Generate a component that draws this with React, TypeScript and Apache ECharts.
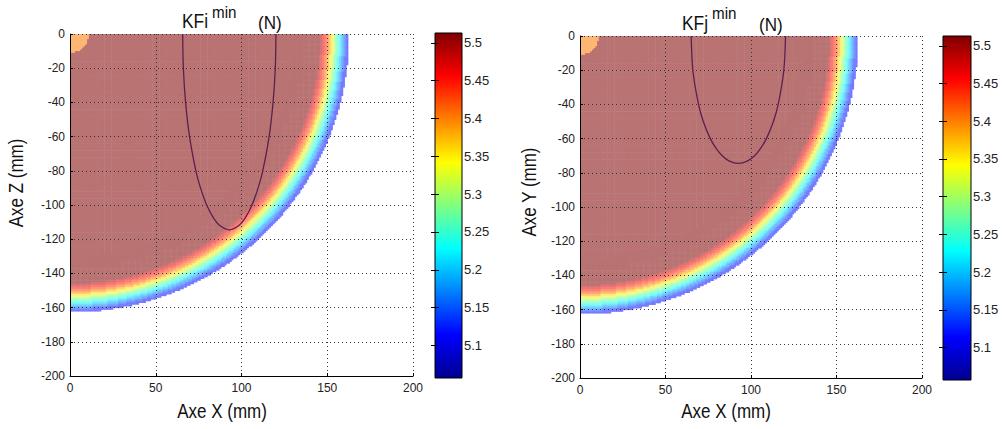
import React, { useEffect, useRef } from "react";
import * as echarts from "echarts";

// ---- axes / ticks ----
const xTickValues = [0, 50, 100, 150, 200];
const yTickValues = [0, -20, -40, -60, -80, -100, -120, -140, -160, -180, -200];
const colorbarTicks = [5.1, 5.15, 5.2, 5.25, 5.3, 5.35, 5.4, 5.45, 5.5];
const colorMin = 5.057;
const colorMax = 5.513;
const jetColors = ["#00008F", "#0000FF", "#0080FF", "#00FFFF", "#80FF80", "#FFFF00", "#FF8000", "#FF0000", "#800000"];

// ---- radial field profile (outer radius of each band in mm -> value) ----
const profileOuterRadius = [11, 146, 147, 148, 149, 150, 151, 152, 153, 154, 155, 156, 157, 158, 159, 160, 161, 162.5];
const profileValue = [5.40, 5.513, 5.49, 5.47, 5.45, 5.43, 5.41, 5.385, 5.355, 5.325, 5.295, 5.27, 5.245, 5.22, 5.195, 5.17, 5.145, 5.12];
const coarseCell = 4; // plateau cells
const fineCell = 1; // cells near the rim and the centre spot

// ---- contour lines ----
const contourLeftX = [65.7, 66.1, 67.4, 69.7, 73.4, 76.1, 79.7, 83.9, 87.3, 92.9, 98.5, 101.9, 106.1, 109.7, 112.4, 116.1, 118.4, 119.7, 120.1];
const contourLeftY = [0, -20, -40, -60, -80, -90, -100, -108, -112, -114.5, -112, -108, -100, -90, -80, -60, -40, -20, 0];
const contourRightX = [65.0, 66.0, 69.3, 72.1, 76.2, 79.8, 83.2, 87.1, 92.6, 98.1, 102.1, 105.4, 109.0, 113.1, 115.9, 119.2, 120.2];
const contourRightY = [0, -20, -40, -50, -60, -66, -70, -73, -74.5, -73, -70, -66, -60, -50, -40, -20, 0];

// ---- texts ----
const panelTitles = ["KFi", "KFj"];
const titleSup = "min";
const titleUnit = "(N)";
const yAxisNames = ["Axe Z (mm)", "Axe Y (mm)"];
const xAxisName = "Axe X (mm)";

const FONT = "'Liberation Sans', Arial, sans-serif";

function lookup(r: number): number | null {
  const k = profileOuterRadius.findIndex((R) => r <= R);
  return k >= 0 ? profileValue[k] : null;
}

function buildField(): number[][] {
  const cells: number[][] = [];
  const coarseLimit = profileOuterRadius[1] - 9; // coarse cell centres up to here
  const fineStart = profileOuterRadius[1] - 15; // fine cells beyond here (overlap avoids gaps)
  const spotEnd = profileOuterRadius[0] + 3;
  const nc = Math.round(200 / coarseCell);
  for (let i = 0; i < nc; i++) {
    for (let j = 0; j < nc; j++) {
      const cx = (i + 0.5) * coarseCell;
      const cy = -(j + 0.5) * coarseCell;
      if (Math.hypot(cx, cy) > coarseLimit) continue;
      cells.push([cx, cy, profileValue[1], coarseCell]);
    }
  }
  const nf = Math.round(200 / fineCell);
  for (let i = 0; i < nf; i++) {
    for (let j = 0; j < nf; j++) {
      const cx = (i + 0.5) * fineCell;
      const cy = -(j + 0.5) * fineCell;
      const r = Math.hypot(cx, cy);
      if (!(r <= spotEnd || r > fineStart)) continue;
      const v = lookup(r);
      if (v !== null) cells.push([cx, cy, v, fineCell]);
    }
  }
  return cells;
}

const renderCell = (params: any, api: any) => {
  const x = api.value(0);
  const y = api.value(1);
  const h = api.value(3) / 2;
  const p0 = api.coord([x - h, y + h]);
  const p1 = api.coord([x + h, y - h]);
  const c = echarts.color.parse(api.visual("color"));
  const a = 0.55;
  const ch = (v: number) => Math.round(255 - a * (255 - v));
  const fill = `rgb(${ch(c[0])},${ch(c[1])},${ch(c[2])})`;
  return {
    type: "rect",
    shape: { x: p0[0], y: p0[1], width: p1[0] - p0[0] + 0.5, height: p1[1] - p0[1] + 0.5 },
    style: { fill, stroke: null },
  };
};

const renderColorbar = (params: any, api: any) => {
  const p0 = api.coord([api.value(0), api.value(3)]);
  const p1 = api.coord([api.value(2), api.value(1)]);
  return {
    type: "rect",
    shape: { x: p0[0], y: p0[1], width: p1[0] - p0[0], height: p1[1] - p0[1] },
    style: {
      fill: {
        type: "linear",
        x: 0, y: 1, x2: 0, y2: 0,
        colorStops: jetColors.map((c, i) => ({ offset: i / (jetColors.length - 1), color: c })),
      },
      stroke: null,
    },
  };
};

const plotAxisCommon = {
  type: "value",
  z: 3,
  axisLine: { show: true, onZero: false, lineStyle: { color: "#000", width: 1 } },
  axisTick: { show: true, inside: true, length: 3, lineStyle: { color: "#000" } },
  splitLine: { show: true, lineStyle: { type: [1, 3], color: "#333", width: 1 } },
};

function heatXAxis(gridIndex: number) {
  return {
    ...plotAxisCommon,
    gridIndex,
    min: xTickValues[0],
    max: xTickValues[xTickValues.length - 1],
    interval: xTickValues[1] - xTickValues[0],
    axisLabel: { fontSize: 12, color: "#222", margin: 6, fontFamily: FONT },
  };
}
function heatYAxis(gridIndex: number) {
  return {
    ...plotAxisCommon,
    gridIndex,
    min: yTickValues[yTickValues.length - 1],
    max: yTickValues[0],
    interval: yTickValues[0] - yTickValues[1],
    axisLabel: { fontSize: 12, color: "#222", margin: 5, fontFamily: FONT },
  };
}
function cbXAxis(gridIndex: number) {
  return { type: "value", gridIndex, min: 0, max: 1, show: false };
}
function cbYAxis(gridIndex: number, side: "left" | "right") {
  return {
    type: "value",
    gridIndex,
    min: colorMin,
    max: colorMax,
    position: side,
    z: 11,
    axisLine: { show: false },
    splitLine: { show: false },
    axisTick: { show: true, inside: true, length: 4, customValues: colorbarTicks, lineStyle: { color: "#000" } },
    axisLabel: {
      show: side === "right",
      customValues: colorbarTicks,
      margin: 2,
      fontSize: 13,
      color: "#222",
      fontFamily: FONT,
      formatter: (v: number) => String(Math.round(v * 100) / 100),
    },
  };
}

function textEl(text: string, x: number, y: number, fontSize: number, scaleX: number, align = "left", rotation = 0) {
  return {
    type: "text",
    x,
    y,
    scaleX,
    rotation,
    silent: true,
    style: { text, fontSize, fontFamily: FONT, fill: "#111", align, verticalAlign: "middle" },
  };
}

export default function App() {
  const ref = useRef<HTMLDivElement>(null);
  useEffect(() => {
    if (!ref.current) return;
    const chart = echarts.init(ref.current, null, { renderer: "svg" });
    const field = buildField();
    const option: any = {
      animation: false,
      backgroundColor: "#fff",
      grid: [
        { left: 70, top: 34, width: 343, height: 342 },
        { left: 580, top: 36, width: 342, height: 342 },
        { left: 435, top: 33, width: 27, height: 345, show: true, z: 10, backgroundColor: "transparent", borderColor: "#000", borderWidth: 1 },
        { left: 943, top: 36, width: 28, height: 344, show: true, z: 10, backgroundColor: "transparent", borderColor: "#000", borderWidth: 1 },
      ],
      xAxis: [heatXAxis(0), heatXAxis(1), cbXAxis(2), cbXAxis(3)],
      yAxis: [heatYAxis(0), heatYAxis(1), cbYAxis(2, "right"), cbYAxis(2, "left"), cbYAxis(3, "right"), cbYAxis(3, "left")],
      visualMap: {
        type: "continuous",
        show: false,
        min: colorMin,
        max: colorMax,
        dimension: 2,
        seriesIndex: [0, 1],
        inRange: { color: jetColors },
      },
      series: [
        { type: "custom", xAxisIndex: 0, yAxisIndex: 0, renderItem: renderCell, data: field, encode: { x: 0, y: 1 }, z: 1, silent: true, clip: true },
        { type: "custom", xAxisIndex: 1, yAxisIndex: 1, renderItem: renderCell, data: field, encode: { x: 0, y: 1 }, z: 1, silent: true, clip: true },
        {
          type: "line", xAxisIndex: 0, yAxisIndex: 0, z: 5, silent: true, showSymbol: false, smooth: 0.3,
          data: contourLeftX.map((x, i) => [x, contourLeftY[i]]),
          lineStyle: { color: "#5b2050", width: 1.3 },
        },
        {
          type: "line", xAxisIndex: 1, yAxisIndex: 1, z: 5, silent: true, showSymbol: false, smooth: 0.3,
          data: contourRightX.map((x, i) => [x, contourRightY[i]]),
          lineStyle: { color: "#5b2050", width: 1.3 },
        },
        { type: "custom", xAxisIndex: 2, yAxisIndex: 2, renderItem: renderColorbar, data: [[0, colorMin, 1, colorMax]], encode: { x: [0, 2], y: [1, 3] }, silent: true },
        { type: "custom", xAxisIndex: 3, yAxisIndex: 4, renderItem: renderColorbar, data: [[0, colorMin, 1, colorMax]], encode: { x: [0, 2], y: [1, 3] }, silent: true },
      ],
      graphic: [
        textEl(panelTitles[0], 182, 21, 20, 0.87),
        textEl(titleSup, 212, 12, 16, 0.95),
        textEl(titleUnit, 258, 23, 18, 0.95),
        textEl(panelTitles[1], 682, 23, 20, 0.87),
        textEl(titleSup, 712, 13, 16, 0.95),
        textEl(titleUnit, 759, 24.5, 18, 0.95),
        textEl(xAxisName, 222, 411, 20, 0.85, "center"),
        textEl(xAxisName, 726, 411, 20, 0.85, "center"),
        textEl(yAxisNames[0], 16, 183, 20, 0.85, "center", Math.PI / 2),
        textEl(yAxisNames[1], 529, 192, 20, 0.85, "center", Math.PI / 2),
      ],
    };
    chart.setOption(option);
    return () => chart.dispose();
  }, []);
  return <div ref={ref} style={{ position: "fixed", left: 0, top: 0, width: 1002, height: 429 }} />;
}
